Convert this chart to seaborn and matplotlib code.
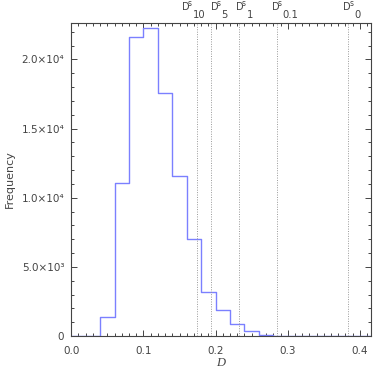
import numpy as np
import pandas as pd
import matplotlib
matplotlib.use('Agg')
import matplotlib.pyplot as plt
import matplotlib.transforms as mtransforms
from matplotlib.ticker import MultipleLocator, FixedLocator
import seaborn as sns

# histogram of D, bins 0.02 wide starting at 0
bin_edges = [round(0.02 * i, 3) for i in range(22)]
counts = [0, 0, 1400, 11100, 21600, 22300, 17550, 11550, 7050, 3150,
          1900, 880, 340, 100, 25, 5, 0, 0, 0, 0, 0]

# threshold lines D^s_x
thr_values = [0.1737, 0.193, 0.2327, 0.2845, 0.3842]
thr_subs = ['10', '5', '1', '0.1', '0']
label_dx_px = [-15, 0, -3.5, -5, -5]

ytick_vals = [0, 5000, 10000, 15000, 20000]
ytick_labels = ['0', '5.0×10³', '1.0×10⁴', '1.5×10⁴', '2.0×10⁴']
xtick_vals = [0.0, 0.1, 0.2, 0.3, 0.4]
xtick_labels = ['0.0', '0.1', '0.2', '0.3', '0.4']

sns.set_style('ticks')
plt.rcParams['font.family'] = ['DejaVu Sans']

txt = '#444444'
line_col = '#7b80ff'
px = 0.72  # points per pixel at dpi 100

fig = plt.figure(figsize=(3.74, 3.74), dpi=100)
ax = fig.add_axes([0.1906, 0.1016, 0.8006, 0.8374])

centers = [(a + b) / 2 for a, b in zip(bin_edges[:-1], bin_edges[1:])]
df = pd.DataFrame({'D': centers, 'n': counts})
sns.histplot(data=df, x='D', weights='n', bins=bin_edges, element='step',
             fill=False, color=line_col, linewidth=1.0, ax=ax)

trans = mtransforms.blended_transform_factory(ax.transData, ax.transAxes)
for v, sub, dx in zip(thr_values, thr_subs, label_dx_px):
    ax.axvline(v, color='#999999', linestyle=(0, (1, 1.5)), linewidth=0.7)
    # D, raised s, then lowered subscript (IDL style)
    ax.annotate('D', xy=(v, 1.0), xycoords=trans,
                xytext=(dx * px, 12.5 * px), textcoords='offset points',
                ha='left', va='baseline', fontsize=7, color=txt)
    ax.annotate('s', xy=(v, 1.0), xycoords=trans,
                xytext=((dx + 6.3) * px, 17.3 * px), textcoords='offset points',
                ha='left', va='baseline', fontsize=5.5, color=txt)
    ax.annotate(sub, xy=(v, 1.0), xycoords=trans,
                xytext=((dx + 11) * px, 4.4 * px), textcoords='offset points',
                ha='left', va='baseline', fontsize=7.2, color=txt)

ax.set_xlim(0.0, 0.415)
ax.set_ylim(0, 22650)
ax.xaxis.set_major_locator(FixedLocator(xtick_vals))
ax.set_xticklabels(xtick_labels)
ax.xaxis.set_minor_locator(MultipleLocator(0.01))
ax.yaxis.set_major_locator(FixedLocator(ytick_vals))
ax.set_yticklabels(ytick_labels)
ax.yaxis.set_minor_locator(MultipleLocator(1000))

ax.tick_params(which='both', direction='in', top=True, right=True,
               color='#444444', width=0.7, labelsize=7.5, labelcolor=txt)
ax.tick_params(which='major', length=4.5)
ax.tick_params(which='minor', length=2.2)
ax.tick_params(axis='x', pad=7)
ax.tick_params(axis='y', pad=5)
for s in ax.spines.values():
    s.set_color('#444444')
    s.set_linewidth(0.8)

ax.set_xlabel('D', family='Liberation Serif', style='italic', fontsize=9,
              color=txt, labelpad=1)
ax.set_ylabel('Frequency', fontsize=8, color=txt)
ax.yaxis.set_label_coords(-0.19, 0.5)

fig.savefig('out.png', dpi=100)
